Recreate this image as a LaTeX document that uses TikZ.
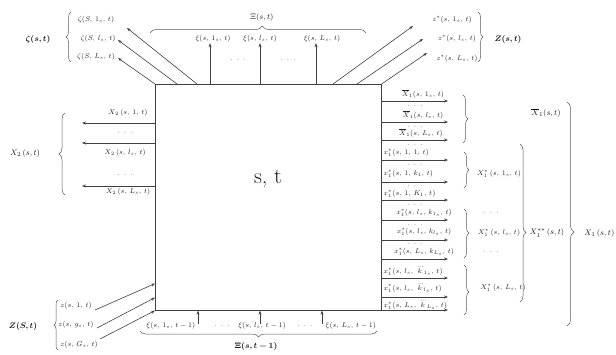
\documentclass[tikz,border=0pt]{standalone}
\usepackage{amsmath,bm}
\usetikzlibrary{decorations.pathreplacing,arrows.meta,calc}
\begin{document}
\begin{tikzpicture}[x=1pt,y=-1pt,
  lbl/.style={inner sep=0.5pt, text=black!85, font=\fontsize{6.8}{7}\selectfont},
  blbl/.style={inner sep=0.5pt, text=black!85, font=\fontsize{7.5}{8}\selectfont},
  big/.style={inner sep=0.5pt, text=black!90, font=\fontsize{8.5}{10}\selectfont},
  arr/.style={-{Stealth[length=4pt,width=3pt]}, line width=0.6pt, draw=black!75},
  br/.style={decorate, decoration={brace, amplitude=5pt}, line width=0.5pt, draw=black!65},
]
\useasboundingbox (0,0) rectangle (616,354);

% main box
\node[draw=black!75, line width=0.6pt, minimum width=226pt, minimum height=226pt, inner sep=0pt, anchor=north west] (box) at (155,84) {};
\node[font=\fontsize{22}{24}\selectfont, text=black!90] (st) at (268,179) {s, t};

% ---------- top left: zeta ----------
\node[big] (zeta) at (38,39) {$\bm{\zeta(s,t)}$};
\draw[br] (71,62) -- (71,12);
\node[lbl] (zl1) at (96,20) {$\zeta(S,\,1_s,\,t)$};
\node[lbl] (zl2) at (98,39) {$\zeta(S,\,l_s,\,t)$};
\node[lbl] (zl3) at (96,57) {$\zeta(S,\,L_s,\,t)$};
\coordinate (tz1) at (127,28);
\coordinate (tz2) at (118,40);
\coordinate (tz3) at (118,58);
\draw[arr] ($(box.north west)+(42,0)$) -- (tz1);
\draw[arr] ($(box.north west)+(22,0)$) -- (tz2);
\draw[arr] (box.north west) -- (tz3);

% ---------- top: Xi(s,t) ----------
\draw[br, decoration={amplitude=7pt, aspect=0.52}] (150,33) -- (366,33);
\node[big] (Xit) at (262,17) {$\Xi(s,t)$};
\node[lbl] (xt1) at (213,39) {$\xi(s,\,1_s,\,t)$};
\node[lbl] (xt2) at (260,39) {$\xi(s,\,l_s,\,t)$};
\node[lbl] (xt3) at (322,39) {$\xi(s,\,L_s,\,t)$};
\draw[arr] ($(box.north west)+(55,0)$) -- (xt1.south -| 210,0);
\draw[arr] ($(box.north west)+(105,0)$) -- (xt2.south -| 260,0);
\draw[arr] ($(box.north west)+(161,0)$) -- (xt3.south -| 316,0);
\node[lbl] (dt1) at (238,60) {$\cdot\;\cdot\;\cdot$};
\node[lbl] (dt2) at (288,60) {$\cdot\;\cdot\;\cdot$};

% ---------- top right: Z(s,t) ----------
\coordinate (tr1) at (413,26);
\coordinate (tr2) at (423,39);
\coordinate (tr3) at (427,53);
\draw[arr] ($(box.north west)+(178,0)$) -- (tr1);
\draw[arr] ($(box.north west)+(202,0)$) -- (tr2);
\draw[arr] (box.north east) -- (tr3);
\node[lbl] (zs1) at (452,20) {$z^*(s,\,1_s,\,t)$};
\node[lbl] (zs2) at (457,39) {$z^*(s,\,l_s,\,t)$};
\node[lbl] (zs3) at (457,59) {$z^*(s,\,L_s,\,t)$};
\draw[br] (478,12) -- (478,62);
\node[big] (Zst) at (508,39) {$\bm{Z(s,t)}$};

% ---------- left: X2 ----------
\coordinate (l1) at (82,123);
\coordinate (l2) at (82,143);
\coordinate (l3) at (82,186);
\draw[arr] (box.west |- l1) -- (l1);
\draw[arr] (box.west |- l2) -- (l2);
\draw[arr] (box.west |- l3) -- (l3);
\node[lbl] (x2a) at (128,113) {$X_2\,(s,\,1,\,t)$};
\node[lbl] (x2d1) at (125,133) {$\cdot\;\cdot\;\cdot$};
\node[lbl] (x2b) at (125,153) {$X_2\,(s,\,l_s,\,t)$};
\node[lbl] (x2d2) at (125,175) {$\cdot\;\cdot\;\cdot$};
\node[lbl] (x2c) at (128,192) {$X_2\,(s,\,L_s,\,t)$};
\draw[br, decoration={amplitude=6pt}] (65,195) -- (65,113);
\node[big] (X2st) at (25,153) {$X_2\,(s,t)$};

% ---------- right arrows ----------
\foreach \yy [count=\i] in {101,122,140,160,182,200,220,240,259,278,297,310} {
  \coordinate (re\i) at (448,\yy);
  \draw[arr] (box.east |- re\i) -- (re\i);
}
\node[lbl] (r1) at (423,94) {$\overline{X}_1(s,\,1_s,\,t)$};
\node[lbl] (rd1) at (415,106) {$\cdot\;\cdot\;\cdot$};
\node[lbl] (r2) at (423,115) {$\overline{X}_1(s,\,l_s,\,t)$};
\node[lbl] (rd2) at (415,127) {$\cdot\;\cdot\;\cdot$};
\node[lbl] (r3) at (421,133) {$\overline{X}_1(s,\,L_s,\,t)$};
\node[lbl] (rd3) at (415,145) {$\cdot\;\cdot\;\cdot$};
\node[lbl, anchor=west] (r4) at (383,153) {$x_1^*(s,\,1,\,1,\,t)$};
\node[lbl] (rd4) at (415,165) {$\cdot\;\cdot\;\cdot$};
\node[lbl, anchor=west] (r5) at (383,174) {$x_1^*(s,\,1,\,k_1,\,t)$};
\node[lbl] (rd5) at (415,186) {$\cdot\;\cdot\;\cdot$};
\node[lbl, anchor=west] (r6) at (383,194) {$x_1^*(s,\,1,\,K_1,\,t)$};
\node[lbl] (rd6) at (415,205) {$\cdot\;\cdot\;\cdot$};
\node[lbl] (r7) at (424,213) {$x_1^*(s,\,l_s,\,k_{1_s},\,t)$};
\node[lbl] (rd7) at (415,225) {$\cdot\;\cdot\;\cdot$};
\node[lbl] (r8) at (424,232) {$x_1^*(s,\,l_s,\,k_{l_s},\,t)$};
\node[lbl] (rd8) at (415,244) {$\cdot\;\cdot\;\cdot$};
\node[lbl] (r9) at (424,252) {$x_1^*(s,\,L_s,\,k_{L_s},\,t)$};
\node[lbl, anchor=west] (r10) at (383,271) {$x_1^*(s,\,l_s,\,\dddot{k}_{1_s},\,t)$};
\node[lbl, anchor=west] (r11) at (383,288) {$x_1^*(s,\,l_s,\,\dddot{k}_{l_s},\,t)$};
\node[lbl, anchor=west] (r12) at (383,305) {$x_1^*(s,\,L_s,\,\dddot{k}_{L_s},\,t)$};

% right braces
\draw[br] (463,95) -- (463,143);
\draw[br] (464,152) -- (464,188);
\draw[br, decoration={aspect=0.49}] (464,209) -- (464,258);
\draw[br, decoration={aspect=0.54}] (464,265) -- (464,315);
\draw[br, decoration={amplitude=6pt, aspect=0.56}] (520,144) -- (520,302);
\draw[br, decoration={amplitude=7pt, aspect=0.58}] (567,102) -- (567,326);
\node[big] (Xb1) at (546,113) {$\overline{X}_1(s,t)$};
\node[lbl] (Xs1) at (499,174) {$X_1^*\,(s,\,1_s,\,t)$};
\node[lbl] (Xsd1) at (491,213) {$\cdot\;\cdot\;\cdot$};
\node[lbl] (Xs2) at (499,233) {$X_1^*\,(s,\,l_s,\,t)$};
\node[lbl] (Xsd2) at (491,252) {$\cdot\;\cdot\;\cdot$};
\node[lbl] (Xs3) at (503,288) {$X_1^*\,(s,\,L_s,\,t)$};
\node[big] (Xss) at (547,233) {$X_1^{**}\,(s,t)$};
\node[big, anchor=east] (X1) at (615,233) {$X_1\,(s,t)$};

% ---------- bottom left: Z(S,t) ----------
\node[big] (ZSt) at (23,326) {$\bm{Z(S,t)}$};
\draw[br, decoration={amplitude=4pt}] (58,350) -- (58,300);
\node[lbl] (zb1) at (76,306) {$z(s,\,1,\,t)$};
\node[lbl] (zb2) at (76,325) {$z(s,\,g_s,\,t)$};
\node[lbl] (zb3) at (79,345) {$z(s,\,G_s,\,t)$};
\coordinate (bz1) at (95,310);
\coordinate (bz2) at (97,328);
\coordinate (bz3) at (100,339);
\draw[arr] (bz1) -- ($(box.south west)+(0,-27)$);
\draw[arr] (bz2) -- ($(box.south west)+(0,-13)$);
\draw[arr] (bz3) -- (box.south west);

% ---------- bottom: Xi(s,t-1) ----------
\coordinate (bb1) at (198,324);
\coordinate (bb2) at (260,324);
\coordinate (bb3) at (322,324);
\draw[arr] (bb1) -- (box.south -| bb1);
\draw[arr] (bb2) -- (box.south -| bb2);
\draw[arr] (bb3) -- (box.south -| bb3);
\node[blbl, anchor=east] (xb1) at (196,326) {$\xi(s,\,1_s,\,t-1)$};
\node[lbl] (xbd1) at (222,326) {$\cdot\;\cdot\;\cdot$};
\node[blbl] (xb2) at (262,326) {$\xi(s,\,l_s,\,t-1)$};
\node[lbl] (xbd2) at (305,326) {$\cdot\;\cdot\;\cdot$};
\node[blbl, anchor=west] (xb3) at (325,326) {$\xi(s,\,L_s,\,t-1)$};
\draw[br, decoration={amplitude=6pt, aspect=0.5}] (377,331) -- (140,331);
\node[big] (Xitm) at (256,346) {$\bm{\Xi(s,t-1)}$};
\end{tikzpicture}
\end{document}
